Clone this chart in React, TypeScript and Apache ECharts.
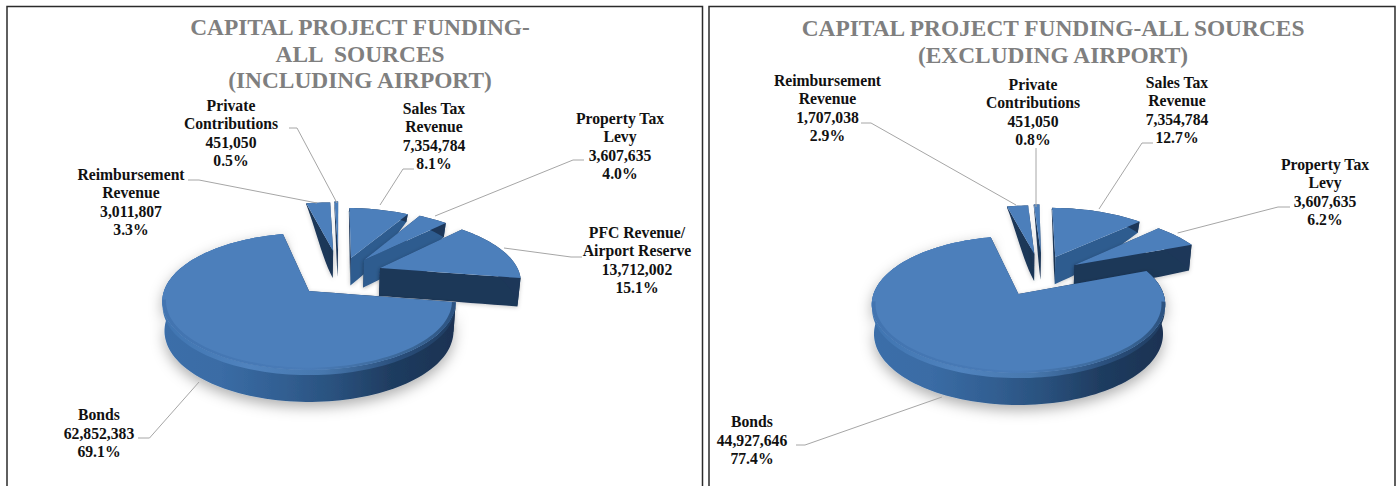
import React, { useEffect, useRef } from "react";
import * as echarts from "echarts";

const leftCategories = ["Sales Tax\nRevenue", "Property Tax\nLevy", "PFC Revenue/\nAirport Reserve", "Bonds", "Reimbursement\nRevenue", "Private\nContributions"];
const leftValues = [7354784, 3607635, 13712002, 62852383, 3011807, 451050];
const rightCategories = ["Sales Tax\nRevenue", "Property Tax\nLevy", "Bonds", "Reimbursement\nRevenue", "Private\nContributions"];
const rightValues = [7354784, 3607635, 44927646, 1707038, 451050];
const leftTitle = "CAPITAL PROJECT FUNDING-\nALL  SOURCES\n(INCLUDING AIRPORT)";
const rightTitle = "CAPITAL PROJECT FUNDING-ALL SOURCES\n(EXCLUDING AIRPORT)";

// Styling / layout only
const leftExplode = [[0.313, -0.533], [0.408, -0.498], [0.517, -0.363], [0, 0], [0.183, -0.66], [0.221, -0.68]];
const rightExplode = [[0.277, -0.604], [0.413, -0.464], [0, 0], [0.12, -0.66], [0.17, -0.68]];
const leftDraw = [4, 5, 0, 1, 2, 3];
const rightDraw = [3, 4, 0, 1, 2];
const leftLabelAt = [[434, 136], [620, 146], [637, 260], [99, 433], [131, 202], [231, 133]];
const rightLabelAt = [[1177, 110], [1325, 192], [752, 440], [827.5, 108], [1033, 112]];
const leftLeaders = [
  [[414, 169], [403, 169], [380, 205]],
  [[584, 160], [573, 160], [435, 216]],
  [[582, 257], [571, 257], [504, 248]],
  [[138, 438], [149.5, 438], [199, 382]],
  [[188, 180], [199, 180], [317, 203]],
  [[289, 128], [297, 128], [337, 203]],
];
const rightLeaders = [
  [[1153, 143], [1142, 143], [1099, 209]],
  [[1290, 207], [1278, 207], [1177.6, 233]],
  [[796, 445], [805, 445], [942, 397]],
  [[861, 123], [871, 123], [1016, 205]],
  [[1036, 148], [1036, 207]],
];

const RX = 145, RY = 66.9, PERSP = 0.153;
const FONT = '"Liberation Serif", "Times New Roman", serif';
const TOP = "#4c7fbb", MID = "#2f5c8f", DARK = "#1d3759";

const rad = (d: number) => (d * Math.PI) / 180;
function wallHeight(v: number) {
  const t = Math.min(1, Math.max(0, (v + 1.8) / 1.1));
  return (29 + 3 * v) * t * t * (3 - 2 * t);
}

function makePie(
  cx: number, cy: number, startAngle: number,
  categories: string[], values: number[],
  explode: number[][], draw: number[], labelAt: number[][], leaders: number[][][]
) {
  const total = values.reduce((a, b) => a + b, 0);
  let acc = startAngle;
  const spans = values.map((v) => {
    const s = acc;
    acc += (v / total) * 360;
    return [s, acc];
  });
  const project = (u: number, v: number, drop: number): number[] => {
    const w = 1 / (1 - PERSP * v);
    const x = cx + RX * u * w * (1 - 0.015 * drop);
    const y = cy + RY * v * w;
    return [x, y + drop * wallHeight(v)];
  };
  const renderItem = (params: any) => {
    const i = draw[params.dataIndex];
    const [a0, a1] = spans[i];
    const [ou, ov] = explode[i];
    const disc = (ang: number, r: number) => [ou + r * Math.sin(rad(ang)), ov - r * Math.cos(rad(ang))];
    const sample = (r: number) => {
      const out: number[][] = [];
      const n = Math.max(2, Math.ceil((a1 - a0) / 2));
      for (let k = 0; k <= n; k++) out.push(disc(a0 + ((a1 - a0) * k) / n, r));
      return out;
    };
    const arc = sample(1);
    const topPts = [project(ou, ov, 0), ...arc.map((p) => project(p[0], p[1], 0))];
    const strip = (from: number, to: number) => [
      ...arc.map((p) => project(p[0], p[1], from)),
      ...arc.slice().reverse().map((p) => project(p[0], p[1], to)),
    ];
    const cut = (ang: number) => {
      const pts: number[][] = [];
      for (let k = 0; k <= 12; k++) pts.push(disc(ang, k / 12));
      return [...pts.map((p) => project(p[0], p[1], 0)), ...pts.slice().reverse().map((p) => project(p[0], p[1], 1))];
    };
    const isBig = values[i] / total > 0.5;
    const soft = { shadowBlur: 4, shadowColor: "rgba(0,0,0,0.22)", shadowOffsetY: 1 };
    const wallFill: any = isBig
      ? new echarts.graphic.LinearGradient(0, 0, 1, 0, [
          { offset: 0, color: "#3a6ea9" },
          { offset: 0.2, color: "#3a6ca5" },
          { offset: 0.42, color: "#315e91" },
          { offset: 0.6, color: "#29507c" },
          { offset: 0.78, color: "#1f3c60" },
          { offset: 1, color: "#1b3252" },
        ])
      : DARK;
    const children: any[] = [
      { type: "polygon", shape: { points: cut(a0) }, style: { fill: DARK, ...soft } },
      { type: "polygon", shape: { points: cut(a1) }, style: { fill: a1 < 60 ? MID : DARK, ...soft } },
      {
        type: "polygon",
        shape: { points: strip(0, 1) },
        style: isBig
          ? { fill: wallFill, shadowBlur: 14, shadowColor: "rgba(0,0,0,0.32)", shadowOffsetY: 5 }
          : { fill: wallFill },
      },
    ];
    if (isBig) {
      // lit bevel just under the rim
      children.push({
        type: "polygon",
        shape: { points: strip(0, 0.16) },
        style: {
          fill: new echarts.graphic.LinearGradient(0, 0, 1, 0, [
            { offset: 0, color: "#3f74b0" },
            { offset: 0.3, color: "#5083be" },
            { offset: 0.55, color: "#4778ae" },
            { offset: 0.8, color: "#2a4f7c" },
            { offset: 1, color: "#1f3c60" },
          ]),
        },
      });
    }
    children.push({ type: "polygon", shape: { points: topPts }, style: { fill: TOP } });
    if (isBig) {
      // rounded shoulder on the front of the top face
      const front = (p: number[]) => p[1] > 0.1;
      const outer = arc.filter(front).map((p) => project(p[0], p[1], 0));
      const inner = sample(0.975).filter(front).map((p) => project(p[0], p[1], 0));
      children.push({
        type: "polygon",
        shape: { points: [...outer, ...inner.reverse()] },
        style: {
          fill: new echarts.graphic.LinearGradient(0, 0, 1, 0, [
            { offset: 0, color: "#4274b0" },
            { offset: 0.5, color: "#4a7cb8" },
            { offset: 0.85, color: "#3a6696" },
            { offset: 1, color: "#2c5280" },
          ]),
        },
      });
    }
    children.push({
      type: "polyline",
      shape: { points: leaders[i] },
      style: { fill: "none", stroke: "#a6a6a6", lineWidth: 1 },
    });
    const pct = ((values[i] / total) * 100).toFixed(1) + "%";
    children.push({
      type: "text",
      style: {
        x: labelAt[i][0],
        y: labelAt[i][1],
        text: `${categories[i]}\n${values[i].toLocaleString("en-US")}\n${pct}`,
        align: "center",
        verticalAlign: "middle",
        font: `bold 15.7px ${FONT}`,
        lineHeight: 18.3,
        fill: "#111",
      },
    });
    return { type: "group", children };
  };
  return {
    type: "custom",
    coordinateSystem: "none",
    silent: true,
    clip: false,
    renderItem,
    data: draw.map((i) => [values[i]]),
  };
}

export default function App() {
  const ref = useRef<HTMLDivElement>(null);
  useEffect(() => {
    const chart = echarts.init(ref.current!, null, { renderer: "svg" });
    const titleStyle = { fontFamily: FONT, fontWeight: "bold", fontSize: 23.4, color: "#7f7f7f", lineHeight: 26.5 };
    chart.setOption({
      animation: false,
      backgroundColor: "#ffffff",
      title: [
        { text: leftTitle, left: 360, top: 14, textAlign: "center", textStyle: titleStyle, padding: 0 },
        { text: rightTitle, left: 1053, top: 15, textAlign: "center", textStyle: titleStyle, padding: 0 },
      ],
      graphic: [
        { type: "polyline", shape: { points: [[7, 486], [7, 6.5], [702.5, 6.5], [702.5, 486]] }, style: { fill: "none", stroke: "#2b2b2b", lineWidth: 1.5 } },
        { type: "polyline", shape: { points: [[709, 486], [709, 6.5], [1395, 6.5], [1395, 486]] }, style: { fill: "none", stroke: "#2b2b2b", lineWidth: 1.5 } },
      ],
      series: [
        makePie(309, 291, 1.8, leftCategories, leftValues, leftExplode, leftDraw, leftLabelAt, leftLeaders),
        makePie(1018.5, 294, 0.7, rightCategories, rightValues, rightExplode, rightDraw, rightLabelAt, rightLeaders),
      ],
    });
    return () => chart.dispose();
  }, []);
  return <div ref={ref} style={{ position: "fixed", left: 0, top: 0, width: 1400, height: 486 }} />;
}
